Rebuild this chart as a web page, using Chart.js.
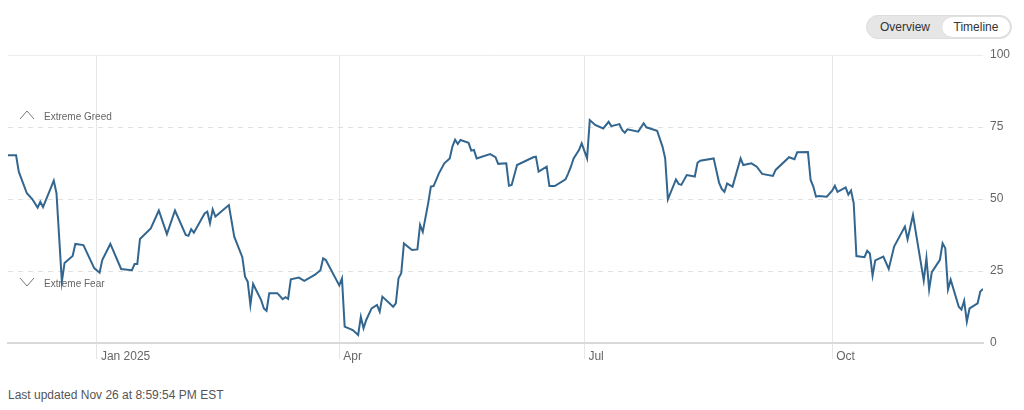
<!DOCTYPE html>
<html>
<head>
<meta charset="utf-8">
<script src="https://cdn.jsdelivr.net/npm/chart.js@4.4.1/dist/chart.umd.min.js"></script>
<style>
  body { margin: 0; background: #fff; font-family: "Liberation Sans", Arial, sans-serif; }
  #wrap { position: absolute; left: 0; top: 0; width: 1024px; height: 380px; }
  .toggle {
    position: absolute; left: 866px; top: 15px; width: 144px; height: 22px;
    background: #e6e6e6; border: 1px solid #ddd; border-radius: 12px;
    font-size: 12px; color: #333;
  }
  .toggle span { position: absolute; top: 1px; height: 20px; line-height: 20px; text-align: center; border-radius: 11px; }
  .toggle .ov { left: 6px; width: 64px; }
  .toggle .tl { left: 75px; width: 68px; background: #fff; box-shadow: 0 0 1px rgba(0,0,0,0.2); }
  .updated { position: absolute; left: 8px; top: 388px; font-size: 12px; color: #555; }
</style>
</head>
<body>
<div class="toggle"><span class="ov">Overview</span><span class="tl">Timeline</span></div>
<div id="wrap"><canvas id="fearGreedChart"></canvas></div>
<div class="updated">Last updated Nov 26 at 8:59:54 PM EST</div>
<script>
const dates = [
  "2024-11-29","2024-12-02","2024-12-03","2024-12-06","2024-12-08","2024-12-10","2024-12-11","2024-12-12",
  "2024-12-16","2024-12-17","2024-12-19","2024-12-20","2024-12-23","2024-12-24","2024-12-27","2024-12-31",
  "2025-01-02","2025-01-03","2025-01-06","2025-01-10","2025-01-14","2025-01-15","2025-01-16","2025-01-17",
  "2025-01-21","2025-01-24","2025-01-27","2025-01-30","2025-02-03","2025-02-04","2025-02-05","2025-02-06",
  "2025-02-10","2025-02-11","2025-02-12","2025-02-13","2025-02-14","2025-02-19","2025-02-21","2025-02-24",
  "2025-02-25","2025-02-26","2025-02-27","2025-02-28","2025-03-03","2025-03-04","2025-03-05","2025-03-06",
  "2025-03-09","2025-03-11","2025-03-12","2025-03-13","2025-03-14","2025-03-17","2025-03-19","2025-03-23",
  "2025-03-25","2025-03-26","2025-03-27","2025-04-01","2025-04-02","2025-04-03","2025-04-06","2025-04-08",
  "2025-04-09","2025-04-10","2025-04-11","2025-04-13","2025-04-15","2025-04-16","2025-04-17","2025-04-21",
  "2025-04-22","2025-04-23","2025-04-24","2025-04-25","2025-04-28","2025-04-30","2025-05-01","2025-05-02",
  "2025-05-04","2025-05-05","2025-05-06","2025-05-08","2025-05-10","2025-05-12","2025-05-13","2025-05-14",
  "2025-05-15","2025-05-16","2025-05-19","2025-05-20","2025-05-21","2025-05-22","2025-05-27","2025-05-29",
  "2025-05-30","2025-06-02","2025-06-03","2025-06-04","2025-06-06","2025-06-12","2025-06-13","2025-06-14",
  "2025-06-17","2025-06-18","2025-06-20","2025-06-24","2025-06-25","2025-06-26","2025-06-27","2025-06-29",
  "2025-06-30","2025-07-02","2025-07-03","2025-07-05","2025-07-08","2025-07-10","2025-07-11","2025-07-14",
  "2025-07-15","2025-07-16","2025-07-17","2025-07-21","2025-07-23","2025-07-24","2025-07-28","2025-07-30",
  "2025-07-31","2025-08-01","2025-08-04","2025-08-05","2025-08-06","2025-08-08","2025-08-11","2025-08-12",
  "2025-08-13","2025-08-18","2025-08-20","2025-08-21","2025-08-22","2025-08-23","2025-08-25","2025-08-28",
  "2025-08-29","2025-09-01","2025-09-03","2025-09-05","2025-09-09","2025-09-10","2025-09-15","2025-09-17",
  "2025-09-18","2025-09-22","2025-09-23","2025-09-24","2025-09-25","2025-09-26","2025-09-29","2025-10-01",
  "2025-10-02","2025-10-03","2025-10-06","2025-10-07","2025-10-08","2025-10-09","2025-10-10","2025-10-13",
  "2025-10-14","2025-10-15","2025-10-16","2025-10-17","2025-10-20","2025-10-22","2025-10-24","2025-10-28",
  "2025-10-29","2025-10-31","2025-11-04","2025-11-05","2025-11-06","2025-11-07","2025-11-10","2025-11-11",
  "2025-11-12","2025-11-13","2025-11-14","2025-11-17","2025-11-18","2025-11-19","2025-11-20","2025-11-21",
  "2025-11-24","2025-11-25","2025-11-26"
];

const scores = [
  65.2, 65.2, 59.5, 52, 50, 47, 49, 47.2,
  56.4, 52, 21.3, 27.8, 30.2, 34.4, 34, 26,
  24.4, 28.8, 34.4, 25.7, 25.3, 27.4, 27.4, 36.1,
  39.8, 46, 37.8, 46, 37.5, 37.2, 39.5, 38.3,
  45, 45.6, 41.6, 46.4, 43.9, 47.9, 36.9, 29.8,
  23, 21.3, 13.2, 20.5, 14.9, 12, 11.2, 17.3,
  17.3, 15.2, 15.9, 15.3, 22.1, 22.7, 21.6, 23.7,
  25.3, 29.4, 28.8, 20, 22.4, 5.7, 4.5, 2.8,
  9.1, 5.1, 8, 12, 13.2, 10.9, 16.1, 12.6,
  13.8, 22.5, 24.2, 34.6, 32.3, 32.5, 41, 38.6,
  48.5, 54.3, 54.5, 58.9, 62.4, 64.1, 68.2, 70.6,
  69.1, 70.5, 69.5, 66.8, 67, 64.1, 65.6, 64.5,
  62.2, 62.4, 54.6, 54.9, 61.8, 64.5, 64.7, 59.5,
  61.2, 54.5, 54.5, 56.8, 58.9, 61.2, 64.1, 67,
  69.3, 64.1, 77.4, 75.7, 74.5, 76.8, 75.3, 76,
  74, 73, 74.2, 73.4, 76.3, 74.9, 73.7, 68.2,
  64.1, 49.9, 56.8, 55.2, 54.9, 58.3, 57.8, 62.6,
  63.3, 64.1, 55.7, 53.5, 52.5, 55.4, 54.3, 64.1,
  61.8, 62.4, 61.2, 58.7, 58, 60.1, 64.5, 63.8,
  66.2, 66.3, 56.6, 54.3, 50.8, 51, 50.8, 52.9,
  54.6, 52.5, 54, 51.5, 52.9, 48.5, 30.2, 29.8,
  32, 31.1, 23.4, 28.7, 30, 25.7, 33.5, 40.4,
  36, 44.4, 21.7, 29.5, 18.6, 24.6, 28.9, 34.6,
  32.9, 18.6, 22, 12.6, 11.6, 14.7, 7.4, 12,
  13.8, 17.9, 18.8
];

const xTickDates = ["2025-01-01", "2025-04-01", "2025-07-01", "2025-10-01"];
const xTickLabels = ["Jan 2025", "Apr", "Jul", "Oct"];
const yTicks = [0, 25, 50, 75, 100];

// days since Jan 1 2025, so the x axis can stay a plain linear scale
function dayNum(s) {
  const p = s.split("-").map(Number);
  return (Date.UTC(p[0], p[1] - 1, p[2]) - Date.UTC(2025, 0, 1)) / 86400000;
}

const points = dates.map((d, i) => ({ x: dayNum(d), y: scores[i] }));

const zoneLabels = {
  id: "zoneLabels",
  beforeDatasetsDraw(chart) {
    const ctx = chart.ctx;
    const y = chart.scales.y;
    const greedY = y.getPixelForValue(75);
    const fearY = y.getPixelForValue(25);
    ctx.save();
    ctx.strokeStyle = "#777";
    ctx.lineWidth = 1;
    ctx.fillStyle = "#666";
    ctx.font = "10px 'Liberation Sans', Arial, sans-serif";
    ctx.textBaseline = "middle";

    ctx.beginPath();
    ctx.moveTo(20, greedY - 8);
    ctx.lineTo(27, greedY - 16);
    ctx.lineTo(34, greedY - 8);
    ctx.stroke();
    ctx.fillText("Extreme Greed", 44, greedY - 10);

    ctx.beginPath();
    ctx.moveTo(20, fearY + 7);
    ctx.lineTo(27, fearY + 15);
    ctx.lineTo(34, fearY + 7);
    ctx.stroke();
    ctx.fillText("Extreme Fear", 44, fearY + 13);
    ctx.restore();
  }
};

const ctx = document.getElementById("fearGreedChart").getContext("2d");
const fearGreedChart = new Chart(ctx, {
  type: "line",
  data: {
    datasets: [{
      label: "Fear & Greed Index",
      data: points,
      borderColor: "#33668f",
      borderWidth: 2,
      pointRadius: 0,
      tension: 0,
      fill: false
    }]
  },
  options: {
    responsive: true,
    maintainAspectRatio: false,
    animation: false,
    layout: { padding: { left: 8, top: 55, right: 0, bottom: 0 } },
    plugins: { legend: { display: false }, tooltip: { enabled: false } },
    scales: {
      x: {
        type: "linear",
        min: dayNum(dates[0]),
        max: dayNum(dates[dates.length - 1]),
        afterBuildTicks: axis => { axis.ticks = xTickDates.map(d => ({ value: dayNum(d) })); },
        afterFit: axis => { axis.height = 37; },
        grid: { color: "#e6e6e6", lineWidth: 1, tickLength: 16 },
        border: { display: true, color: "#d9d9d9", width: 2 },
        ticks: {
          autoSkip: false,
          maxRotation: 0,
          align: "start",
          labelOffset: 4,
          padding: -10,
          color: "#666",
          font: { size: 12, family: "'Liberation Sans', Arial, sans-serif" },
          callback: (value, index) => xTickLabels[index]
        }
      },
      y: {
        position: "right",
        min: 0,
        max: 100,
        afterBuildTicks: axis => { axis.ticks = yTicks.map(v => ({ value: v })); },
        afterFit: axis => { axis.width = 41; },
        grid: {
          drawTicks: false,
          lineWidth: 1,
          color: c => c.tick && c.tick.value === 0 ? "rgba(0,0,0,0)" : (c.tick && c.tick.value === 100 ? "#ececec" : "#e0e0e0")
        },
        border: {
          display: false,
          dash: c => c.tick && (c.tick.value === 0 || c.tick.value === 100) ? [] : [5, 5]
        },
        ticks: {
          padding: 7,
          color: "#666",
          font: { size: 12, family: "'Liberation Sans', Arial, sans-serif" }
        }
      }
    }
  },
  plugins: [zoneLabels]
});
</script>
</body>
</html>
